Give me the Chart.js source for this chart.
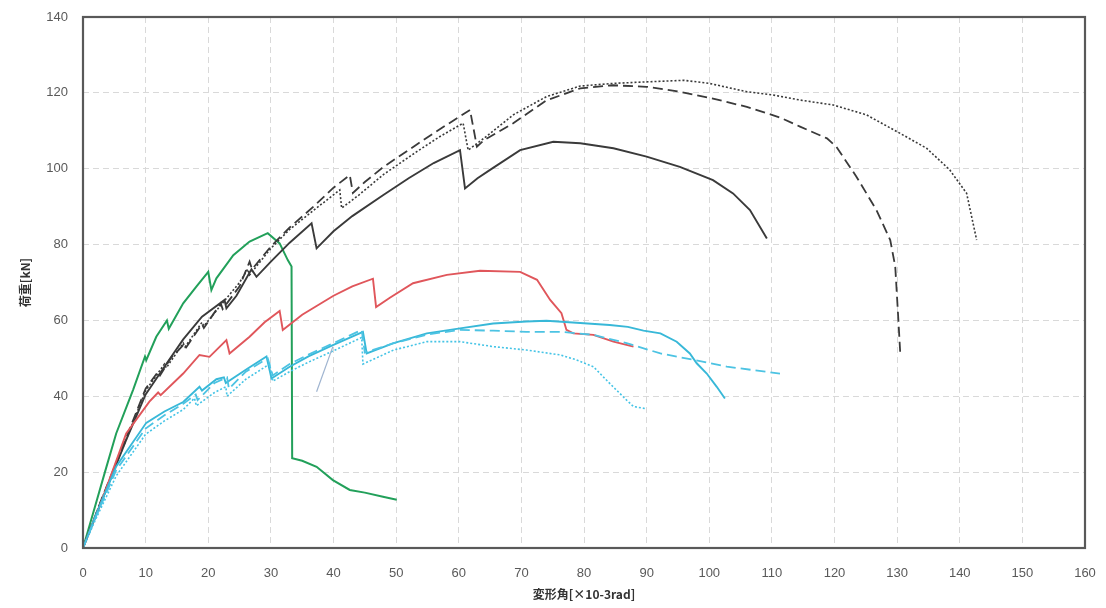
<!DOCTYPE html>
<html lang="ja">
<head>
<meta charset="UTF-8"/>
<title>荷重-変形角</title>
<script src="https://cdn.jsdelivr.net/npm/chart.js@4.4.1/dist/chart.umd.min.js"></script>
<style>
  html, body { margin: 0; padding: 0; background: #fff; }
  #wrap { width: 1106px; height: 608px; position: relative; }
</style>
</head>
<body>
<div id="wrap"><canvas id="chart" width="1106" height="608"></canvas></div>
<script>
// axis ticks
const xTicks = [0, 10, 20, 30, 40, 50, 60, 70, 80, 90, 100, 110, 120, 130, 140, 150, 160];
const yTicks = [0, 20, 40, 60, 80, 100, 120, 140];

// green solid
const greenX = [0, 1.6, 3.5, 5.3, 8, 9.9, 10.1, 11.7, 13.4, 13.7, 16, 18.1, 20, 20.5, 21.3, 24, 26.6, 29.5, 31.4, 32.7, 33.3, 33.4, 35, 37.3, 39.9, 42.6, 45, 47.9, 50.1];
const greenY = [0, 9.1, 20, 30.2, 41.7, 50.5, 49.5, 55.7, 60, 57.8, 64.5, 68.9, 72.8, 68, 71.1, 77.2, 80.8, 83, 80.3, 75.9, 74.2, 23.7, 23, 21.4, 17.9, 15.3, 14.6, 13.5, 12.7];

// black solid
const blackX = [0, 3, 6.9, 10, 13.3, 16, 19, 22.6, 22.9, 24.5, 26.9, 27.7, 30, 33, 36.5, 37.3, 40, 43, 47.9, 52, 56, 60.2, 61, 63, 65, 69.8, 75.1, 79.4, 84.7, 90, 95.3, 100.6, 103.8, 106.5, 109.2];
const blackY = [0, 12.5, 28.5, 40.5, 48.5, 55, 61, 65.4, 63.2, 66.5, 73.5, 71.5, 75.5, 80.5, 85.6, 79, 83.5, 87.5, 93, 97.5, 101.5, 104.9, 94.8, 97.5, 99.7, 104.9, 107.1, 106.7, 105.4, 103.2, 100.5, 97, 93.5, 89.1, 81.6];

// black dashed
const blackDashX = [0, 3, 7, 10, 12, 12.3, 14, 16, 16.3, 19, 19.3, 22, 22.3, 25, 26.6, 27, 30, 33, 36.8, 40, 42.6, 43.1, 45, 48, 53.3, 58, 61.8, 62.9, 64, 68.7, 74, 79.4, 84.6, 90, 95.3, 100.6, 106, 111.3, 114.5, 118.8, 120.3, 123.5, 126.7, 128.9, 129.7, 130.2, 130.5];
const blackDashY = [0, 13, 29.5, 42, 46.5, 45.5, 50, 53.5, 52.5, 59, 58, 64.5, 63, 69, 75.5, 73.5, 79.5, 84.5, 90, 95, 98.3, 93.6, 96.5, 100.5, 106.4, 111.5, 115.5, 105.8, 107.5, 112, 118, 121.2, 122, 121.6, 120.3, 118.5, 116.3, 113.5, 111.1, 108, 105.8, 97.9, 89.1, 81.2, 74.2, 60.1, 51.3];

// black dotted
const blackDotX = [0, 3, 7, 10, 13, 13.3, 16, 16.3, 19, 19.3, 22, 25, 26.3, 26.6, 30, 33, 36.8, 41, 41.3, 44, 48, 53.3, 57, 60.7, 61.5, 64, 68.7, 74, 79.4, 84.7, 90, 96, 100, 106, 110, 114.5, 119.8, 125.1, 130.5, 134.7, 138.4, 141.1, 142.7];
const blackDotY = [0, 13, 29, 41.5, 48.5, 47.5, 54, 53, 59.5, 58.5, 64, 70, 73.5, 72, 79, 84, 89, 94.4, 89.6, 93, 98.5, 104.5, 108.5, 112, 104.9, 108, 114.2, 119, 121.8, 122.5, 122.9, 123.3, 122.5, 120.3, 119.5, 118.1, 116.8, 114.2, 109.3, 105.4, 99.7, 93.5, 81.2];

// red solid
const redX = [0, 3, 6.9, 10.6, 12, 12.4, 16, 18.6, 20.2, 22.9, 23.4, 26.6, 29, 31.4, 31.9, 35, 40, 43, 46.3, 46.8, 49, 52.7, 58.1, 63.4, 69.8, 72.5, 74.6, 76.4, 77.2, 78.3, 81.5, 84.7, 87.9];
const redY = [0, 12.5, 30.2, 38.6, 41, 40.3, 46, 50.9, 50.4, 54.8, 51.3, 55.7, 59.5, 62.5, 57.5, 61.5, 66.5, 69, 71, 63.5, 66, 69.8, 72, 73.1, 72.8, 70.7, 65.4, 61.9, 57.5, 56.6, 56.2, 54.4, 53.1];

// cyan solid
const cyanX = [0, 2, 5.3, 10.1, 13, 16, 18.6, 19, 21.3, 22.5, 22.8, 26, 29.3, 30.1, 33, 36, 39.9, 44.7, 45.3, 49.6, 54.9, 60.2, 65.5, 70.8, 74, 78.8, 84.1, 87, 89.5, 92.2, 94.8, 96.9, 98, 99.6, 101.2, 102.5];
const cyanY = [0, 8.5, 21.5, 33, 36, 38.5, 42.5, 41.5, 44.5, 45, 43.5, 47, 50.5, 44.7, 47.8, 50.5, 53.5, 57, 51.3, 54, 56.6, 57.9, 59.2, 59.7, 59.9, 59.4, 58.8, 58.3, 57.3, 56.6, 54.4, 51.3, 48.7, 46, 42.5, 39.4];

// cyan dashed
const cyanDashX = [0, 2, 5.3, 10, 13, 16, 18, 18.3, 21, 23, 23.3, 26, 29.5, 30.3, 33, 36, 40, 44.5, 45, 49.6, 55, 60.2, 65.5, 70.8, 76.2, 81.5, 86.8, 92.2, 97.5, 102.8, 111.3];
const cyanDashY = [0, 8, 20.5, 31.5, 35, 38, 40.5, 39, 43.5, 45, 42, 46.5, 50, 45.5, 48.5, 51, 54, 57.5, 51.5, 54, 56.3, 57.5, 57.3, 57, 57, 56.2, 54, 51.3, 49.6, 47.8, 46];

// cyan dotted
const cyanDotX = [0, 2, 5.3, 10, 13, 16, 17.8, 18.1, 21, 22.8, 23, 26, 29.8, 30.3, 33, 36, 40, 44.5, 44.7, 49.6, 54.9, 60.2, 65.5, 70.8, 76.2, 78.8, 81.5, 84.1, 86.8, 87.9, 89.7];
const cyanDotY = [0, 7.5, 19, 30, 33.5, 36.5, 39.5, 37.5, 41, 42.5, 40, 44.5, 48.5, 44, 46.5, 49, 52, 55.5, 48.5, 52.2, 54.4, 54.4, 53.1, 52.2, 50.9, 49.6, 47.8, 43.4, 39, 37.3, 36.8];

// thin leader line
const leaderX = [37.3, 39.9];
const leaderY = [41.2, 53.1];

const pts = (xs, ys) => xs.map((x, i) => ({ x: x, y: ys[i] }));

const line = (label, xs, ys, color, dash, width) => ({
  label: label,
  data: pts(xs, ys),
  showLine: true,
  borderColor: color,
  backgroundColor: color,
  borderWidth: width || 1.8,
  borderDash: dash || [],
  pointRadius: 0,
  tension: 0,
  fill: false
});

// plot frame (all four sides)
const framePlugin = {
  id: 'frame',
  afterDraw(chart) {
    const a = chart.chartArea, c = chart.ctx;
    c.save();
    c.strokeStyle = '#595959';
    c.lineWidth = 2.2;
    c.strokeRect(a.left, a.top, a.right - a.left, a.bottom - a.top);
    c.restore();
  }
};

const tickFont = { family: 'Liberation Sans', size: 13 };
const titleFont = { family: 'Noto Sans CJK JP', size: 12, weight: 'bold' };

new Chart(document.getElementById('chart'), {
  type: 'scatter',
  data: {
    datasets: [
      line('leader', leaderX, leaderY, '#9fb4d0', [], 1.2),
      line('cyan dotted', cyanDotX, cyanDotY, '#45c4e6', [2, 2], 1.6),
      line('cyan dashed', cyanDashX, cyanDashY, '#4cc3e3', [10, 5], 1.8),
      line('cyan', cyanX, cyanY, '#38b8d8', [], 1.9),
      line('red', redX, redY, '#e0565b', [], 1.9),
      line('black dotted', blackDotX, blackDotY, '#3a3a3a', [2, 2], 1.6),
      line('black dashed', blackDashX, blackDashY, '#3a3a3a', [10, 5], 1.8),
      line('black', blackX, blackY, '#3a3a3a', [], 1.9),
      line('green', greenX, greenY, '#22a05a', [], 2)
    ]
  },
  options: {
    responsive: false,
    animation: false,
    layout: { padding: { top: 17, right: 21, bottom: 0, left: 0 } },
    plugins: { legend: { display: false }, tooltip: { enabled: false } },
    scales: {
      x: {
        type: 'linear',
        min: 0, max: 160,
        afterBuildTicks: s => { s.ticks = xTicks.map(v => ({ value: v })); },
        afterFit: s => { s.height = 60; s.paddingLeft = 0; s.paddingRight = 0; },
        grid: { color: '#d9d9d9', lineWidth: 1, drawTicks: false },
        border: { display: false, dash: [6, 4] },
        ticks: { color: '#595959', font: tickFont, padding: 18, maxRotation: 0 },
        title: { display: true, text: '変形角[×10-3rad]', color: '#333', font: titleFont, padding: { top: 2, bottom: 6 } }
      },
      y: {
        type: 'linear',
        min: 0, max: 140,
        afterBuildTicks: s => { s.ticks = yTicks.map(v => ({ value: v })); },
        afterFit: s => { s.width = 83; s.paddingTop = 0; s.paddingBottom = 0; },
        grid: { color: '#d9d9d9', lineWidth: 1, drawTicks: false },
        border: { display: false, dash: [6, 4] },
        ticks: { color: '#595959', font: tickFont, padding: 15 },
        title: { display: true, text: '荷重[kN]', color: '#333', font: titleFont, padding: { top: 18, bottom: 4 } }
      }
    }
  },
  plugins: [framePlugin]
});
</script>
</body>
</html>
